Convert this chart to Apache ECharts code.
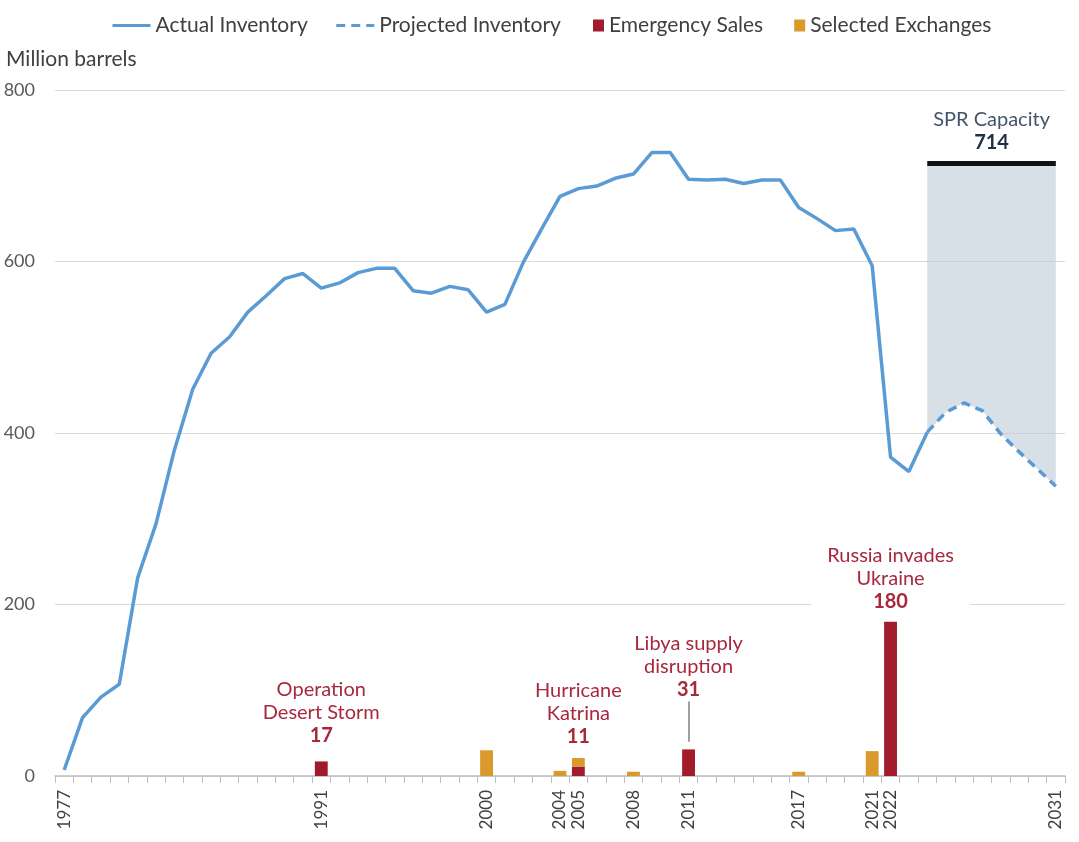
<!DOCTYPE html>
<html>
<head>
<meta charset="utf-8">
<script src="https://cdn.jsdelivr.net/npm/echarts@6/dist/echarts.min.js"></script>
<style>
  html, body { margin: 0; padding: 0; background: #fff; }
  #chart { width: 1079px; height: 842px; }
</style>
</head>
<body>
<div id="chart"></div>
<script>
// years on the axis, 1977 .. 2031
var years = ['1977','1978','1979','1980','1981','1982','1983','1984','1985','1986',
	'1987','1988','1989','1990','1991','1992','1993','1994','1995','1996',
	'1997','1998','1999','2000','2001','2002','2003','2004','2005','2006',
	'2007','2008','2009','2010','2011','2012','2013','2014','2015','2016',
	'2017','2018','2019','2020','2021','2022','2023','2024','2025','2026',
	'2027','2028','2029','2030','2031'];

// only these years get a tick label
var labelYears = ['1977','1991','2000','2004','2005','2008','2011','2017','2021','2022','2031'];

// actual inventory, 1977 .. 2024 (million barrels)
var actualInventory = [7, 68, 92, 107, 231, 294, 380, 451, 493, 512,
	541, 560, 580, 586, 569, 575, 587, 592, 592, 566,
	563, 571, 567, 541, 550, 599, 638, 676, 685, 688,
	697, 702, 727, 727, 696, 695, 696, 691, 695, 695,
	663, 650, 636, 638, 595, 372, 355, 401];

// projected inventory, 2024 .. 2031
var projectedYears = ['2024','2025','2026','2027','2028','2029','2030','2031'];
var projectedInventory = [401, 424, 435, 426, 399, 378, 358, 338];

var sprCapacity = 714;

// emergency sales and selected exchanges
var emergencyYears = ['1991','2005','2011','2022'];
var emergencySales = [17, 11, 31, 180];
var emergencyNames = ['Operation\nDesert Storm', 'Hurricane\nKatrina', 'Libya supply\ndisruption', 'Russia invades\nUkraine'];

var exchangeYears = ['2000','2004','2005','2008','2017','2021'];
var selectedExchanges = [30, 6, 10, 5, 5, 29];

var dom = document.getElementById('chart');
var myChart = echarts.init(dom);

var FONT = 'Lato';
var RED_TEXT = '#a8283e';

function byYear(yrs, vals) {
	var out = years.map(function () { return null; });
	for (var i = 0; i < yrs.length; i++) {
		out[years.indexOf(yrs[i])] = vals[i];
	}
	return out;
}

var actualData = actualInventory.concat(years.slice(actualInventory.length).map(function () { return null; }));
var projectedData = byYear(projectedYears, projectedInventory);
var capacityGap = byYear(projectedYears, projectedInventory.map(function (v) { return sprCapacity - v; }));
var exchangeData = byYear(exchangeYears, selectedExchanges);

// label distance above each emergency bar
var labelDistance = { '1991': 14, '2005': 19, '2011': 48, '2022': 9 };

var emergencyData = byYear(emergencyYears, emergencySales).map(function (v, i) {
	if (v === null) return null;
	var k = emergencyYears.indexOf(years[i]);
	var lines = emergencyNames[k].split('\n').map(function (s) { return '{t|' + s + '}'; });
	var item = {
		value: v,
		label: {
			show: true,
			position: 'top',
			distance: labelDistance[years[i]],
			formatter: lines.join('\n') + '\n{b|' + v + '}'
		}
	};
	if (years[i] === '2022') {
		item.label.backgroundColor = '#fff';
		item.label.padding = [0, 16, 0, 16];
	}
	return item;
});

option = {
	backgroundColor: '#fff',
	textStyle: { fontFamily: FONT },
	animation: false,
	title: {
		text: 'Million barrels',
		left: 1,
		top: 44,
		textStyle: { fontFamily: FONT, fontSize: 21, fontWeight: 'normal', color: '#404040' }
	},
	legend: [
		{
			left: 106,
			top: 10,
			itemWidth: 38,
			itemHeight: 14,
			itemGap: 27,
			itemStyle: { color: 'rgba(0,0,0,0)', borderWidth: 0, opacity: 0 },
			lineStyle: { width: 3 },
			textStyle: { fontFamily: FONT, fontSize: 21, color: '#404040' },
			data: ['Actual Inventory', 'Projected Inventory']
		},
		{
			left: 588,
			top: 10,
			itemWidth: 11,
			itemHeight: 12,
			itemGap: 31,
			icon: 'rect',
			textStyle: { fontFamily: FONT, fontSize: 21, color: '#404040' },
			data: ['Emergency Sales', 'Selected Exchanges']
		}
	],
	grid: {
		left: 55,
		right: 14,
		top: 90,
		bottom: 66,
		containLabel: false,
		outerBoundsMode: 'none'
	},
	xAxis: {
		type: 'category',
		data: years,
		boundaryGap: true,
		axisLine: { lineStyle: { color: '#bfbfbf', width: 1.5 } },
		axisTick: { show: true, interval: 0, length: 7, lineStyle: { color: '#bfbfbf' } },
		axisLabel: {
			interval: function (idx, val) { return labelYears.indexOf(val) >= 0; },
			rotate: 90,
			margin: 14,
			fontFamily: FONT,
			fontSize: 17,
			color: '#404040'
		},
		splitLine: { show: false }
	},
	yAxis: {
		type: 'value',
		min: 0,
		max: 800,
		interval: 200,
		axisLine: { show: false },
		axisTick: { show: false },
		axisLabel: { margin: 20, fontFamily: FONT, fontSize: 18, color: '#595959' },
		splitLine: { lineStyle: { color: '#d9d9d9', width: 1.2 } }
	},
	series: [
		{
			name: 'capBase',
			type: 'line',
			stack: 'cap',
			data: projectedData,
			symbol: 'none',
			lineStyle: { width: 0, opacity: 0 },
			silent: true,
			z: 1
		},
		{
			name: 'capGap',
			type: 'line',
			stack: 'cap',
			data: capacityGap,
			symbol: 'none',
			lineStyle: { width: 0, opacity: 0 },
			areaStyle: { color: 'rgba(188,204,215,0.6)', opacity: 1 },
			silent: true,
			z: 1,
			markLine: {
				silent: true,
				symbol: 'none',
				lineStyle: { color: '#111', width: 5, type: 'solid' },
				label: {
					show: true,
					position: 'middle',
					distance: 10,
					formatter: '{a|SPR Capacity}\n{b|' + sprCapacity + '}',
					rich: {
						a: { fontFamily: FONT, fontSize: 20, color: '#44546a', lineHeight: 23 },
						b: { fontFamily: FONT, fontSize: 20, fontWeight: 'bold', color: '#1f3046', lineHeight: 23 }
					}
				},
				data: [[
					{ coord: [projectedYears[0], sprCapacity] },
					{ coord: [projectedYears[projectedYears.length - 1], sprCapacity] }
				]]
			}
		},
		{
			name: 'Actual Inventory',
			type: 'line',
			data: actualData,
			symbol: 'none',
			color: '#5b9bd5',
			lineStyle: { color: '#5b9bd5', width: 3.5 },
			z: 5
		},
		{
			name: 'Projected Inventory',
			type: 'line',
			data: projectedData,
			symbol: 'none',
			color: '#5b9bd5',
			lineStyle: { color: '#5b9bd5', width: 3.5, type: [9, 6] },
			z: 5
		},
		{
			name: 'Emergency Sales',
			type: 'bar',
			stack: 'bars',
			barWidth: '70%',
			data: emergencyData,
			itemStyle: { color: '#a11b2b' },
			label: {
				rich: {
					t: { fontFamily: FONT, fontSize: 20, color: RED_TEXT, lineHeight: 23 },
					b: { fontFamily: FONT, fontSize: 20, fontWeight: 'bold', color: RED_TEXT, lineHeight: 23 }
				}
			},
			markLine: {
				silent: true,
				symbol: 'none',
				lineStyle: { color: '#7f7f7f', width: 1.5, type: 'solid' },
				label: { show: false },
				data: [[
					{ coord: ['2011', 40] },
					{ coord: ['2011', 87] }
				]]
			},
			z: 3
		},
		{
			name: 'Selected Exchanges',
			type: 'bar',
			stack: 'bars',
			barWidth: '70%',
			data: exchangeData,
			itemStyle: { color: '#d99a2b' },
			z: 3
		}
	]
};

if (option && typeof option === "object") {
	myChart.setOption(option, true);
}
</script>
</body>
</html>
